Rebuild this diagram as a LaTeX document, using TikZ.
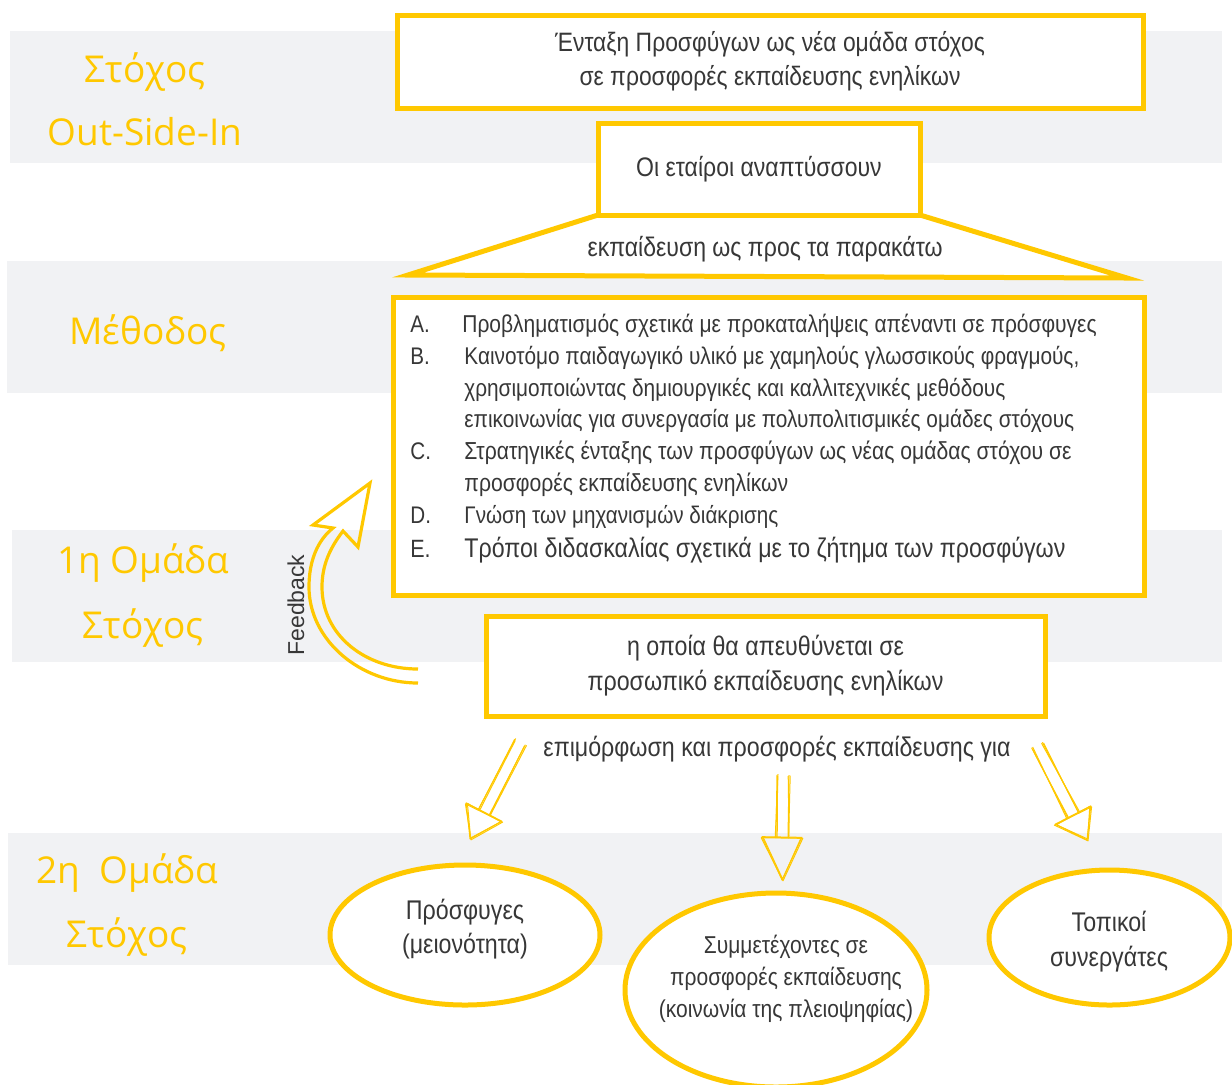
\documentclass[tikz,border=0pt]{standalone}
\usepackage{fontspec}
\setmainfont{Liberation Sans}[FakeStretch=0.86]
\newfontfamily\handfont{Open Sans}
\usetikzlibrary{shapes.geometric,calc}
\definecolor{yel}{RGB}{255,200,0}
\definecolor{bandc}{RGB}{241,242,244}
\definecolor{txt}{RGB}{55,55,55}
\newcommand{\skarrow}[3]{%
  \foreach \ox/\oy/\oz in {0/0/0, 1.2/0.6/-1, -0.8/1/0.8}{%
    \draw[sk] ($(#1)!3pt!90:(#2)+(\ox,\oy)$) -- ($(#2)!3pt!-90:(#1)+(\oy,\ox)$);
    \draw[sk] ($(#1)!3pt!-90:(#2)+(\oy,\ox)$) -- ($(#2)!3pt!90:(#1)+(\ox,\oy)$);
    \draw[sk] ($(#2)!10pt!90:(#1)+(\ox,\oy)$) -- ($(#3)+(\oy,\oz)$) -- ($(#2)!10pt!-90:(#1)+(\oz,\oy)$) -- cycle;
  }}
\begin{document}
\begin{tikzpicture}[x=0.5pt,y=-0.5pt,
  ybox/.style={draw=yel, line width=2.5pt, fill=white, inner sep=0pt, text=txt, align=center},
  t/.style={text=txt, inner sep=0pt, align=center},
  lt/.style={text=txt, inner sep=0pt, anchor=base west},
  hand/.style={text=yel, font=\handfont\fontsize{18.5}{24}\selectfont, inner sep=0pt},
  sk/.style={draw=yel, line width=0.5pt, line join=round},
  fb/.style={draw=yel, line width=1.6pt, line join=miter},
  ell/.style={ellipse, draw=yel, line width=2.5pt, fill=white, inner sep=0pt}
]
\useasboundingbox (0,0) rectangle (1232,1084);
% bands
\fill[bandc] (10,31) rectangle (1222,163);
\fill[bandc] (7,261) rectangle (1222,393);
\fill[bandc] (12,530) rectangle (1222,662);
\fill[bandc] (8,833) rectangle (1222,965);
% handwritten labels
\node[hand] (h1) at (145,72) {Στόχος};
\node[hand] (h2) at (145,132) {Out-Side-In};
\node[hand] (h3) at (148,333) {Μέθοδος};
\node[hand] (h4) at (143,563) {1η Ομάδα};
\node[hand] (h5) at (143,628) {Στόχος};
\node[hand] (h6) at (127,873) {2η \ Ομάδα};
\node[hand] (h7) at (127,937) {Στόχος};
% top box
\node[ybox, minimum width=373pt, minimum height=46.5pt, font=\fontsize{13.3}{17}\selectfont] (top) at (770,61.5)
  {Ένταξη Προσφύγων ως νέα ομάδα στόχος\\σε προσφορές εκπαίδευσης ενηλίκων};
% trapezoid and box 2
\coordinate (trl) at (408,275);
\coordinate (trr) at (1127,278);
\draw[draw=yel, line width=2.5pt, fill=white, line join=miter] (598,215) -- (920,215) -- (trr) -- (trl) -- cycle;
\node[ybox, minimum width=161pt, minimum height=46pt, font=\fontsize{13.4}{16}\selectfont] (b2) at (759,169) {Οι εταίροι αναπτύσσουν};
\node[t, font=\fontsize{13.4}{16}\selectfont] (trt) at (765,249) {εκπαίδευση ως προς τα παρακάτω};
% list box
\node[ybox, minimum width=375.5pt, minimum height=149pt] (list) at (768.5,446) {};
\node[lt, font=\fontsize{12}{14}\selectfont] (la) at (410,332) {A.};
\node[lt, font=\fontsize{12.2}{14}\selectfont] (lat) at (462,332) {Προβληματισμός σχετικά με προκαταλήψεις απέναντι σε πρόσφυγες};
\node[lt, font=\fontsize{12}{14}\selectfont] (lb) at (410,364) {B.};
\node[lt, font=\fontsize{12.1}{14}\selectfont] (lbt1) at (464,364) {Καινοτόμο παιδαγωγικό υλικό με χαμηλούς γλωσσικούς φραγμούς,};
\node[lt, font=\fontsize{12.1}{14}\selectfont] (lbt2) at (464,396) {χρησιμοποιώντας δημιουργικές και καλλιτεχνικές μεθόδους};
\node[lt, font=\fontsize{12.1}{14}\selectfont] (lbt3) at (464,427) {επικοινωνίας για συνεργασία με πολυπολιτισμικές ομάδες στόχους};
\node[lt, font=\fontsize{12}{14}\selectfont] (lc) at (410,459) {C.};
\node[lt, font=\fontsize{12.3}{14}\selectfont] (lct1) at (464,459) {Στρατηγικές ένταξης των προσφύγων ως νέας ομάδας στόχου σε};
\node[lt, font=\fontsize{12.3}{14}\selectfont] (lct2) at (464,491) {προσφορές εκπαίδευσης ενηλίκων};
\node[lt, font=\fontsize{12}{14}\selectfont] (ld) at (410,523) {D.};
\node[lt, font=\fontsize{12}{14}\selectfont] (ldt) at (464,523) {Γνώση των μηχανισμών διάκρισης};
\node[lt, font=\fontsize{12.5}{14}\selectfont] (le) at (410,557) {E.};
\node[lt, font=\fontsize{13.5}{14}\selectfont] (let) at (464,557) {Τρόποι διδασκαλίας σχετικά με το ζήτημα των προσφύγων};
% box 4
\node[ybox, minimum width=279.5pt, minimum height=50pt, font=\fontsize{13.5}{17.5}\selectfont] (b4) at (765.5,666)
  {η οποία θα απευθύνεται σε\\προσωπικό εκπαίδευσης ενηλίκων};
% feedback arrow
\coordinate (fbo) at (418,683);
\coordinate (fbi) at (418,669);
\draw[fb] (fbo) .. controls (360,683) and (309,640) .. (309,587)
  .. controls (309,560) and (318,540) .. (333,528) -- (313,525) -- (370,483) -- (358,547) -- (343,531)
  .. controls (330,548) and (322,565) .. (322,587) .. controls (322,635) and (365,669) .. (fbi);
\node[t, rotate=90, font=\addfontfeature{FakeStretch=1.0}\fontsize{11.5}{13}\selectfont] (fbl) at (296,605) {Feedback};
% text above arrows
\node[t, font=\fontsize{13.5}{16}\selectfont] (mid) at (777,749) {επιμόρφωση και προσφορές εκπαίδευσης για};
% sketchy arrows
\coordinate (las) at (520,742); \coordinate (lab) at (484,812); \coordinate (lat2) at (470,839);
\coordinate (mas) at (783,775); \coordinate (mab) at (782,837); \coordinate (mat) at (782,880);
\coordinate (ras) at (1037,745); \coordinate (rab) at (1073,815); \coordinate (rat) at (1087,840);
\skarrow{las}{lab}{lat2}
\skarrow{mas}{mab}{mat}
\skarrow{ras}{rab}{rat}
% ellipses
\node[ell, minimum width=135pt, minimum height=70pt] (e1) at (465,935) {};
\node[t, font=\fontsize{13.5}{17}\selectfont] (e1t) at (465,929) {Πρόσφυγες\\(μειονότητα)};
\node[ell, minimum width=151pt, minimum height=97pt] (e2) at (776,990) {};
\node[t, font=\fontsize{12.2}{16}\selectfont] (e2t) at (786,979) {Συμμετέχοντες σε\\προσφορές εκπαίδευσης\\(κοινωνία της πλειοψηφίας)};
\node[ell, minimum width=120.5pt, minimum height=67.5pt] (e3) at (1109.5,937.5) {};
\node[t, font=\fontsize{13.5}{17.5}\selectfont] (e3t) at (1109,942) {Τοπικοί\\συνεργάτες};
\end{tikzpicture}
\end{document}
